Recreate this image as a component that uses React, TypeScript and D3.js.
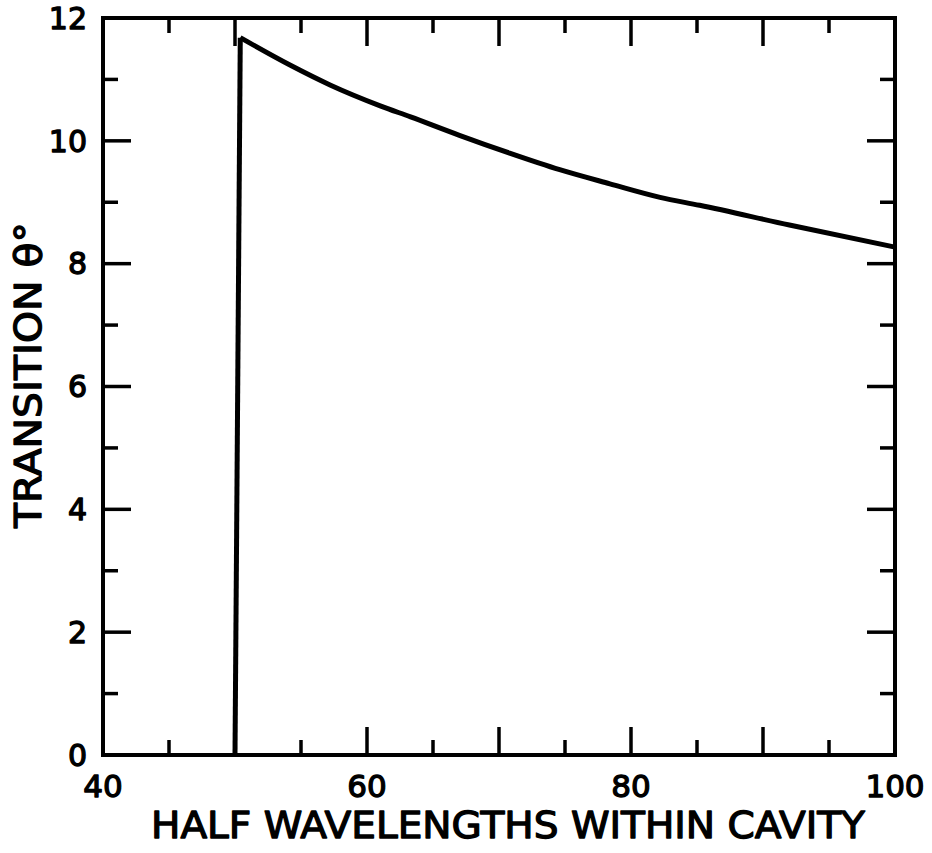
import { useMemo } from "react";
import * as d3 from "d3";

// curve
const halfWaves = [50, 50.4, 54.2, 57.2, 61.0, 63.3, 67.0, 70.8, 74.6, 78.4, 82.2, 85.2, 92.0, 100];
const thetaDeg = [0, 11.68, 11.23, 10.91, 10.57, 10.39, 10.09, 9.8, 9.53, 9.3, 9.08, 8.95, 8.63, 8.27];

const xTickLabels = [40, 60, 80, 100];
const yTickLabels = [0, 2, 4, 6, 8, 10, 12];

const W = 932;
const H = 853;
const MARGIN = { top: 18, right: 37, bottom: 98, left: 103 };
const FONT = "'DejaVu Sans', sans-serif";

export default function App() {
  const boundsWidth = W - MARGIN.left - MARGIN.right;
  const boundsHeight = H - MARGIN.top - MARGIN.bottom;

  const xScale = useMemo(
    () => d3.scaleLinear().domain([40, 100]).range([0, boundsWidth]),
    [boundsWidth]
  );
  const yScale = useMemo(
    () => d3.scaleLinear().domain([0, 12]).range([boundsHeight, 0]),
    [boundsHeight]
  );

  const pts: [number, number][] = halfWaves.map((x, i) => [x, thetaDeg[i]]);
  const riseLine = d3
    .line<[number, number]>()
    .x((d) => xScale(d[0]))
    .y((d) => yScale(d[1]));
  const decayLine = d3
    .line<[number, number]>()
    .x((d) => xScale(d[0]))
    .y((d) => yScale(d[1]))
    .curve(d3.curveMonotoneX);

  const xTicks = d3.range(40, 100.1, 5);
  const yTicks = d3.range(0, 12.1, 1);
  const MAJOR = 28;
  const MINOR = 15;

  const textStyle = {
    fontFamily: FONT,
    fill: "#000",
    stroke: "#000",
    strokeWidth: 1.3,
    strokeLinejoin: "round" as const,
  };

  return (
    <svg
      width={W}
      height={H}
      style={{ position: "absolute", left: 0, top: 0, background: "#fff" }}
    >
      <g transform={`translate(${MARGIN.left},${MARGIN.top})`}>
        {/* ticks, all pointing inward */}
        {xTicks.map((t) => {
          const len = t % 10 === 0 ? MAJOR : MINOR;
          if (t === 40 || t === 100) return null;
          const x = xScale(t);
          return (
            <g key={"x" + t} stroke="#000" strokeWidth={3.5}>
              <line x1={x} x2={x} y1={boundsHeight} y2={boundsHeight - len} />
              <line x1={x} x2={x} y1={0} y2={len} />
            </g>
          );
        })}
        {yTicks.map((t) => {
          const len = t % 2 === 0 ? MAJOR : MINOR;
          if (t === 0 || t === 12) return null;
          const y = yScale(t);
          return (
            <g key={"y" + t} stroke="#000" strokeWidth={3.5}>
              <line x1={0} x2={len} y1={y} y2={y} />
              <line x1={boundsWidth} x2={boundsWidth - len} y1={y} y2={y} />
            </g>
          );
        })}

        <rect
          x={0}
          y={0}
          width={boundsWidth}
          height={boundsHeight}
          fill="none"
          stroke="#000"
          strokeWidth={4}
        />

        <path
          d={riseLine(pts.slice(0, 2)) || ""}
          fill="none"
          stroke="#000"
          strokeWidth={5}
        />
        <path
          d={decayLine(pts.slice(1)) || ""}
          fill="none"
          stroke="#000"
          strokeWidth={5}
          strokeLinejoin="round"
        />

        {/* tick labels */}
        {xTickLabels.map((t) => (
          <text
            key={"xl" + t}
            x={xScale(t)}
            y={boundsHeight + 42}
            textAnchor="middle"
            fontSize={31}
            {...textStyle}
          >
            {t}
          </text>
        ))}
        {yTickLabels.map((t) => (
          <text
            key={"yl" + t}
            x={-16}
            y={yScale(t)}
            dy="0.36em"
            textAnchor="end"
            fontSize={30}
            {...textStyle}
          >
            {t}
          </text>
        ))}

        {/* axis titles */}
        <text
          x={(151 + 865) / 2 - MARGIN.left}
          y={838 - MARGIN.top}
          textAnchor="middle"
          fontSize={38}
          textLength={714}
          lengthAdjust="spacingAndGlyphs"
          {...textStyle}
        >
          HALF WAVELENGTHS WITHIN CAVITY
        </text>
        <text
          transform={`translate(${41 - MARGIN.left},${375 - MARGIN.top}) rotate(-90)`}
          textAnchor="middle"
          fontSize={38}
          textLength={306}
          lengthAdjust="spacingAndGlyphs"
          {...textStyle}
        >
          TRANSITION θ°
        </text>
      </g>
    </svg>
  );
}
